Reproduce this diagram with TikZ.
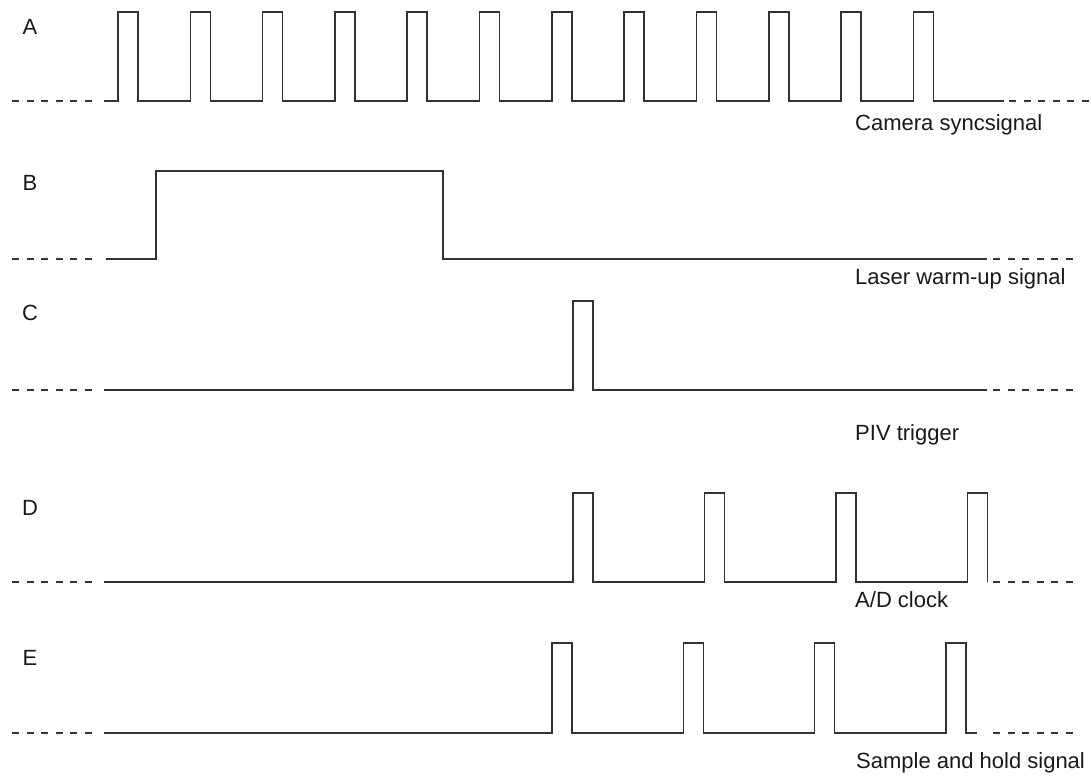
\documentclass[tikz,border=0pt]{standalone}
\usepackage{fontspec}
\setmainfont{Liberation Sans}
\begin{document}
\begin{tikzpicture}[x=1pt,y=-1pt,
    wave/.style={line width=1.6pt,color=black!80,line join=miter},
    idle/.style={line width=1.6pt,color=black!80,dash pattern=on 7pt off 7.5pt},
    rowtag/.style={inner sep=0pt,font=\fontsize{22}{26}\selectfont,text=black!90},
    sigtag/.style={rowtag,anchor=west}]
    \useasboundingbox (0,0) rectangle (1091,778);
    \begin{scope}[shift={(0,101)}]
        \draw[idle] (12,0) -- (98,0);
        \draw[wave] (104,0) foreach \x in {118,190.3,...,914} {-- (\x,0) -- (\x,-89) -- (\x+20,-89) -- (\x+20,0)} -- (1004,0);
        \draw[idle] (1009,0) -- (1091,0);
    \end{scope}
    \begin{scope}[shift={(0,259)}]
        \draw[idle] (12,0) -- (98,0);
        \draw[wave] (106,0) -- (156,0) -- (156,-88) -- (443,-88) -- (443,0) -- (987,0);
        \draw[idle] (993,0) -- (1080,0);
    \end{scope}
    \begin{scope}[shift={(0,390)}]
        \draw[idle] (12,0) -- (98,0);
        \draw[wave] (104,0) -- (573,0) -- (573,-89) -- (593,-89) -- (593,0) -- (987,0);
        \draw[idle] (993,0) -- (1080,0);
    \end{scope}
    \begin{scope}[shift={(0,582)}]
        \draw[idle] (12,0) -- (98,0);
        \draw[wave] (104,0) foreach \x in {573,704.5,...,968} {-- (\x,0) -- (\x,-89) -- (\x+20,-89) -- (\x+20,0)};
        \draw[idle] (993,0) -- (1080,0);
    \end{scope}
    \begin{scope}[shift={(0,733)}]
        \draw[idle] (12,0) -- (98,0);
        \draw[wave] (104,0) foreach \x in {552,683.3,...,947} {-- (\x,0) -- (\x,-90) -- (\x+20,-90) -- (\x+20,0)} -- (977,0);
        \draw[idle] (993,0) -- (1080,0);
    \end{scope}
    \node[rowtag] (labA) at (30,27) {A};
    \node[rowtag] (labB) at (30,183) {B};
    \node[rowtag] (labC) at (30,313) {C};
    \node[rowtag] (labD) at (30,508) {D};
    \node[rowtag] (labE) at (30,658) {E};
    \node[sigtag] (sigA) at (855,125) {Camera syncsignal};
    \node[sigtag] (sigB) at (855,279) {Laser warm-up signal};
    \node[sigtag] (sigC) at (855,435) {PIV trigger};
    \node[sigtag] (sigD) at (855,600) {A/D clock};
    \node[sigtag] (sigE) at (856,763) {Sample and hold signal};
\end{tikzpicture}
\end{document}
